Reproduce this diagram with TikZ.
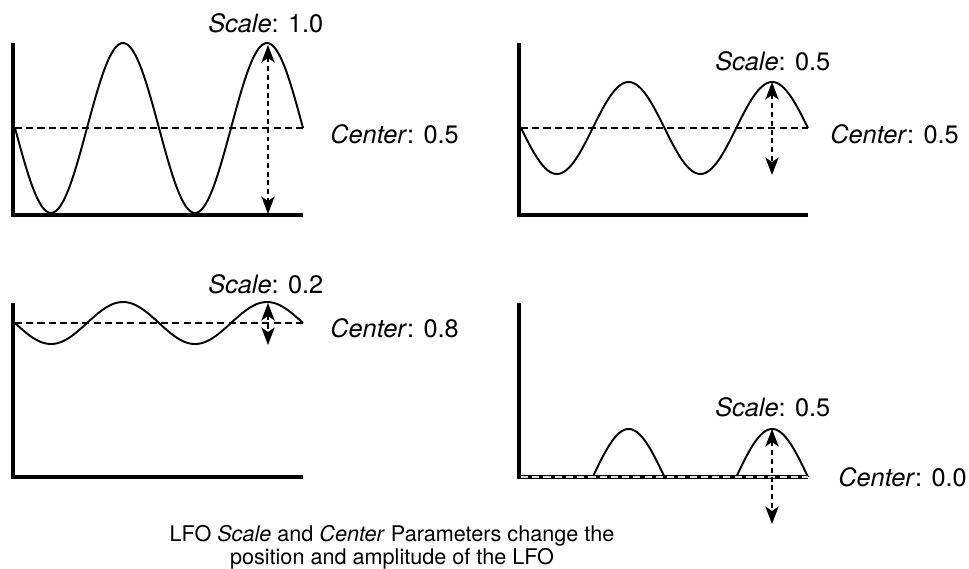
\documentclass[tikz,border=0pt]{standalone}
\usepackage{fontspec}
\setmainfont{TeX Gyre Heros}
\usetikzlibrary{arrows.meta}

\begin{document}
\begin{tikzpicture}[x=0.02cm, y=-0.02cm,
    axis/.style={draw=black, line width=2.2pt},
    wave/.style={draw=black, line width=1.1pt},
    centerline/.style={draw=black, line width=0.8pt, dash pattern=on 4pt off 2.4pt},
    scalearrow/.style={draw=black, line width=0.8pt, dash pattern=on 2.8pt off 2.2pt,
      {Stealth[length=10pt, width=7.6pt, inset=2.6pt]}-{Stealth[length=10pt, width=7.6pt, inset=2.6pt]}},
    param/.style={font=\fontsize{14.4}{17}\selectfont, inner sep=0pt, anchor=base west}]
  \useasboundingbox (0,0) rectangle (969,568);
  % axes
  \draw[axis] (13,43) |- (303,215);
  \draw[axis] (519,43) |- (808,215);
  \draw[axis] (13,303) |- (303,477);
  \draw[axis] (519,303) |- (808,477);
  % scale 1.0, center 0.5
  \draw[centerline] (15,128) -- (303,128);
  \draw[wave] plot[domain=15:303, samples=120, smooth] (\x, {128+85*sin(2.5*(\x-15))});
  \coordinate (top1) at (268,45);
  \coordinate (bot1) at (268,214);
  \draw[scalearrow] (top1) -- (bot1);
  \node[param] (scale1) at (208,32) {\textit{Scale}: 1.0};
  \node[param] (center1) at (330,143) {\textit{Center}: 0.5};
  % scale 0.5, center 0.5
  \draw[centerline] (521,128) -- (808,128);
  \draw[wave] plot[domain=521:808, samples=120, smooth] (\x, {128+46*sin(2.5087*(\x-521))});
  \coordinate (top2) at (772,82);
  \coordinate (bot2) at (772,175);
  \draw[scalearrow] (top2) -- (bot2);
  \node[param] (scale2) at (715,70) {\textit{Scale}: 0.5};
  \node[param] (center2) at (830,143) {\textit{Center}: 0.5};
  % scale 0.2, center 0.8
  \draw[centerline] (15,323) -- (303,323);
  \draw[wave] plot[domain=15:303, samples=120, smooth] (\x, {323+21*sin(2.5*(\x-15))});
  \coordinate (top3) at (268,303);
  \coordinate (bot3) at (268,345);
  \draw[scalearrow] (top3) -- (bot3);
  \node[param] (scale3) at (208,293) {\textit{Scale}: 0.2};
  \node[param] (center3) at (330,337) {\textit{Center}: 0.8};
  % scale 0.5, center 0.0 (clipped)
  \draw[wave] plot[domain=592.75:664.5, samples=50, smooth] (\x, {477+48*sin(2.5087*(\x-521))});
  \draw[wave] plot[domain=736.25:808, samples=50, smooth] (\x, {477+48*sin(2.5087*(\x-521))});
  \draw[centerline, draw=white!75!gray] (521,477) -- (808,477);
  \coordinate (top4) at (772,429);
  \coordinate (bot4) at (772,524);
  \draw[scalearrow] (top4) -- (bot4);
  \node[param] (scale4) at (715,416) {\textit{Scale}: 0.5};
  \node[param] (center4) at (838,486) {\textit{Center}: 0.0};
  % caption
  \node[font=\fontsize{12.3}{13}\selectfont, align=center, inner sep=0pt] (caption) at (392,547)
    {LFO \textit{Scale} and \textit{Center} Parameters change the\\position and amplitude of the LFO};
\end{tikzpicture}
\end{document}
